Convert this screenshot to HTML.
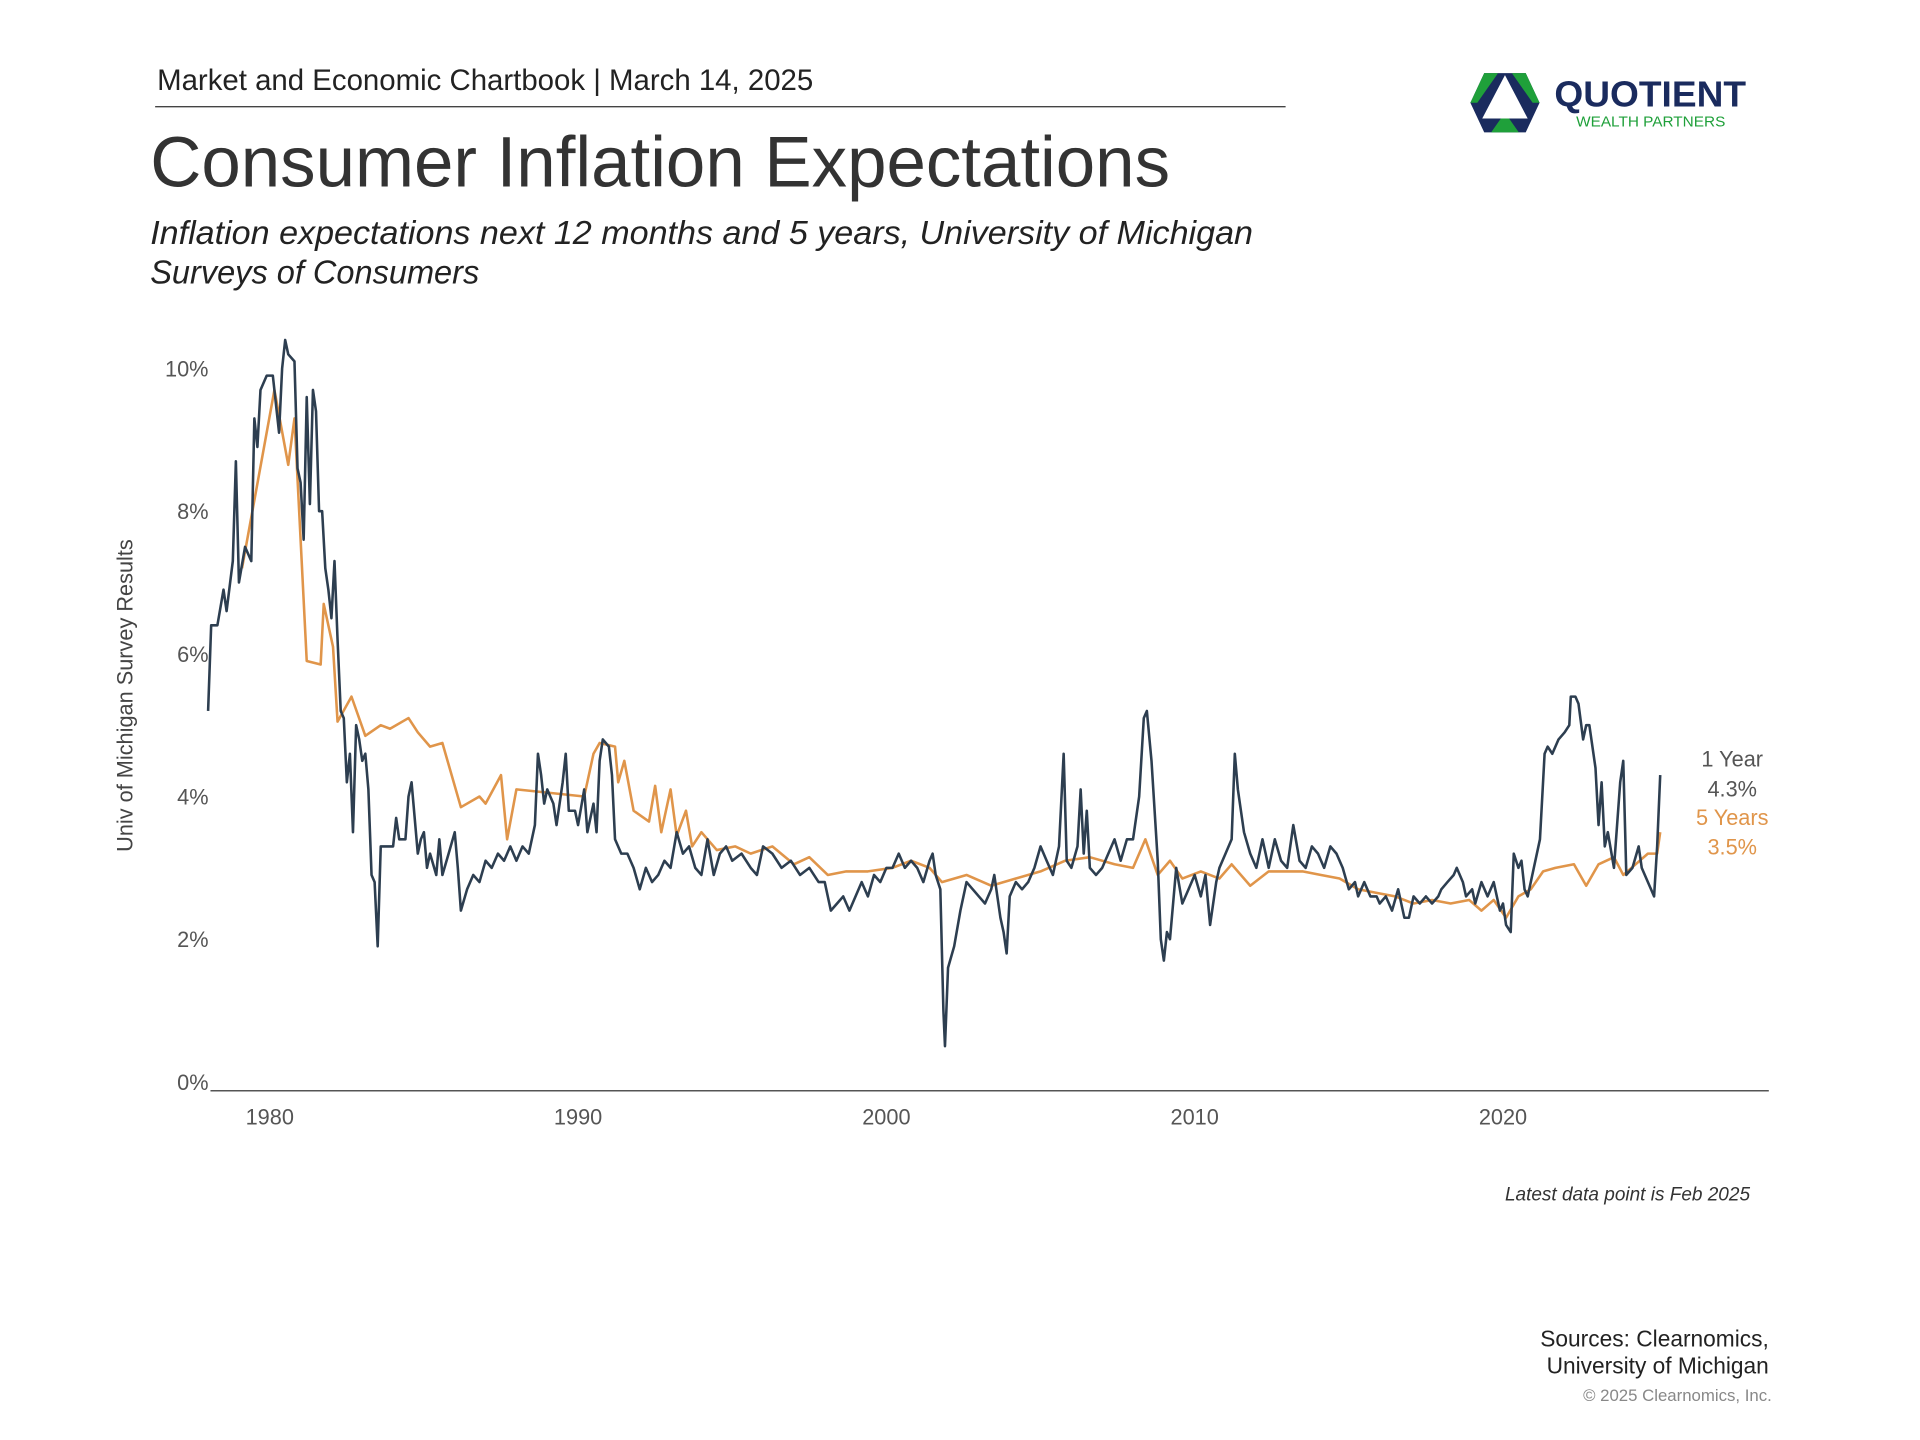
<!DOCTYPE html>
<html><head><meta charset="utf-8"><style>
html,body{margin:0;padding:0;background:#fff;}
svg{display:block;font-family:"Liberation Sans",sans-serif;}
</style></head><body>
<svg id="c" width="1920" height="1440" viewBox="0 0 1943 1457.5" preserveAspectRatio="none">
<text x="159" y="91" font-size="30" fill="#222" textLength="664" lengthAdjust="spacingAndGlyphs">Market and Economic Chartbook | March 14, 2025</text>
<line x1="157" y1="108" x2="1301" y2="108" stroke="#444" stroke-width="1.3"/>
<text x="152" y="189" font-size="72" fill="#333" textLength="1032" lengthAdjust="spacingAndGlyphs">Consumer Inflation Expectations</text>
<text x="152" y="247" font-size="34" font-style="italic" fill="#222" textLength="1116" lengthAdjust="spacingAndGlyphs">Inflation expectations next 12 months and 5 years, University of Michigan</text>
<text x="152" y="287" font-size="34" font-style="italic" fill="#222" textLength="333" lengthAdjust="spacingAndGlyphs">Surveys of Consumers</text>
<g>
<polygon points="1502,74 1544,74 1558,104 1544,134 1502,134 1488,104" fill="#1a2b5e"/>
<polygon points="1502,74 1516,74 1495,104 1488,104" fill="#1fa03a"/>
<polygon points="1544,74 1530,74 1551,104 1558,104" fill="#1fa03a"/>
<polygon points="1509,134 1523,114 1537,134" fill="#1fa03a"/>
<polygon points="1523,76 1546,120 1500,120" fill="#fff"/>
<text x="1573" y="108" font-size="37" font-weight="bold" fill="#1a2b5e" textLength="194" lengthAdjust="spacingAndGlyphs">QUOTIENT</text>
<text x="1595" y="128" font-size="15" fill="#1fa03a" textLength="151" lengthAdjust="spacingAndGlyphs">WEALTH PARTNERS</text>
</g>
<text transform="translate(134,704) rotate(-90)" text-anchor="middle" font-size="22" fill="#444">Univ of Michigan Survey Results</text>
<g id="axes"></g>
<g id="series"></g>
<text x="1753" y="776" text-anchor="middle" font-size="22" fill="#555">1 Year</text>
<text x="1753" y="806" text-anchor="middle" font-size="22" fill="#555">4.3%</text>
<text x="1753" y="835" text-anchor="middle" font-size="22" fill="#e0954a">5 Years</text>
<text x="1753" y="865" text-anchor="middle" font-size="22" fill="#e0954a">3.5%</text>
<text x="1771" y="1215" text-anchor="end" font-size="20" font-style="italic" fill="#333" textLength="248" lengthAdjust="spacingAndGlyphs">Latest data point is Feb 2025</text>
<text x="1790" y="1363" text-anchor="end" font-size="23" fill="#222">Sources: Clearnomics,</text>
<text x="1790" y="1390" text-anchor="end" font-size="23" fill="#222">University of Michigan</text>
<text x="1793" y="1418" text-anchor="end" font-size="17" fill="#888">© 2025 Clearnomics, Inc.</text>
</svg>
<script>
const yTicks=[0,2,4,6,8,10];
const yTickLabels=["0%","2%","4%","6%","8%","10%"];
const xTicks=[1980,1990,2000,2010,2020];
const xTickLabels=["1980","1990","2000","2010","2020"];
const oneYearDates=[1978.0,1978.1,1978.3,1978.5,1978.6,1978.8,1978.9,1979.0,1979.2,1979.4,1979.5,1979.6,1979.7,1979.9,1980.1,1980.3,1980.4,1980.5,1980.6,1980.8,1980.9,1981.0,1981.1,1981.2,1981.3,1981.4,1981.5,1981.6,1981.7,1981.8,1981.9,1982.0,1982.1,1982.2,1982.3,1982.4,1982.5,1982.6,1982.7,1982.8,1982.9,1983.0,1983.1,1983.2,1983.3,1983.4,1983.5,1983.6,1983.8,1984.0,1984.1,1984.2,1984.4,1984.5,1984.6,1984.8,1984.9,1985.0,1985.1,1985.2,1985.4,1985.5,1985.6,1985.8,1986.0,1986.1,1986.2,1986.4,1986.6,1986.8,1987.0,1987.2,1987.4,1987.6,1987.8,1988.0,1988.2,1988.4,1988.6,1988.7,1988.8,1988.9,1989.0,1989.2,1989.3,1989.5,1989.6,1989.7,1989.9,1990.0,1990.2,1990.3,1990.5,1990.6,1990.7,1990.8,1991.0,1991.1,1991.2,1991.4,1991.6,1991.8,1992.0,1992.2,1992.4,1992.6,1992.8,1993.0,1993.2,1993.4,1993.6,1993.8,1994.0,1994.2,1994.4,1994.6,1994.8,1995.0,1995.3,1995.6,1995.8,1996.0,1996.3,1996.6,1996.9,1997.2,1997.5,1997.8,1998.0,1998.2,1998.4,1998.6,1998.8,1999.0,1999.2,1999.4,1999.6,1999.8,2000.0,2000.2,2000.4,2000.6,2000.8,2001.0,2001.2,2001.4,2001.5,2001.6,2001.75,2001.85,2001.9,2002.0,2002.2,2002.4,2002.6,2002.8,2003.0,2003.2,2003.4,2003.5,2003.7,2003.8,2003.9,2004.0,2004.2,2004.4,2004.6,2004.8,2005.0,2005.2,2005.4,2005.6,2005.75,2005.85,2006.0,2006.2,2006.3,2006.4,2006.5,2006.6,2006.8,2007.0,2007.2,2007.4,2007.6,2007.8,2008.0,2008.2,2008.35,2008.45,2008.6,2008.8,2008.9,2009.0,2009.1,2009.2,2009.4,2009.6,2009.8,2010.0,2010.2,2010.35,2010.5,2010.7,2010.8,2011.0,2011.2,2011.3,2011.4,2011.6,2011.8,2012.0,2012.2,2012.3,2012.4,2012.6,2012.8,2013.0,2013.2,2013.4,2013.6,2013.8,2014.0,2014.2,2014.4,2014.6,2014.8,2015.0,2015.2,2015.3,2015.5,2015.7,2015.9,2016.0,2016.2,2016.4,2016.6,2016.8,2016.95,2017.1,2017.3,2017.5,2017.7,2017.9,2018.0,2018.2,2018.4,2018.5,2018.7,2018.8,2019.0,2019.1,2019.3,2019.5,2019.7,2019.9,2020.0,2020.1,2020.25,2020.35,2020.5,2020.6,2020.7,2020.8,2021.0,2021.2,2021.35,2021.45,2021.6,2021.8,2022.0,2022.15,2022.2,2022.35,2022.45,2022.6,2022.7,2022.8,2023.0,2023.1,2023.2,2023.3,2023.4,2023.6,2023.8,2023.9,2024.0,2024.2,2024.4,2024.5,2024.8,2024.9,2025.0,2025.1];
const oneYearValues=[5.2,6.4,6.4,6.9,6.6,7.3,8.7,7.0,7.5,7.3,9.3,8.9,9.7,9.9,9.9,9.1,10.0,10.4,10.2,10.1,8.6,8.4,7.6,9.6,8.1,9.7,9.4,8.0,8.0,7.2,6.9,6.5,7.3,6.2,5.2,5.1,4.2,4.6,3.5,5.0,4.8,4.5,4.6,4.1,2.9,2.8,1.9,3.3,3.3,3.3,3.7,3.4,3.4,4.0,4.2,3.2,3.4,3.5,3.0,3.2,2.9,3.4,2.9,3.2,3.5,3.0,2.4,2.7,2.9,2.8,3.1,3.0,3.2,3.1,3.3,3.1,3.3,3.2,3.6,4.6,4.3,3.9,4.1,3.9,3.6,4.2,4.6,3.8,3.8,3.6,4.1,3.5,3.9,3.5,4.5,4.8,4.7,4.3,3.4,3.2,3.2,3.0,2.7,3.0,2.8,2.9,3.1,3.0,3.5,3.2,3.3,3.0,2.9,3.4,2.9,3.2,3.3,3.1,3.2,3.0,2.9,3.3,3.2,3.0,3.1,2.9,3.0,2.8,2.8,2.4,2.5,2.6,2.4,2.6,2.8,2.6,2.9,2.8,3.0,3.0,3.2,3.0,3.1,3.0,2.8,3.1,3.2,2.9,2.7,1.0,0.5,1.6,1.9,2.4,2.8,2.7,2.6,2.5,2.7,2.9,2.3,2.1,1.8,2.6,2.8,2.7,2.8,3.0,3.3,3.1,2.9,3.3,4.6,3.1,3.0,3.3,4.1,3.2,3.8,3.0,2.9,3.0,3.2,3.4,3.1,3.4,3.4,4.0,5.1,5.2,4.5,3.1,2.0,1.7,2.1,2.0,3.0,2.5,2.7,2.9,2.6,2.9,2.2,2.8,3.0,3.2,3.4,4.6,4.1,3.5,3.2,3.0,3.4,3.2,3.0,3.4,3.1,3.0,3.6,3.1,3.0,3.3,3.2,3.0,3.3,3.2,3.0,2.7,2.8,2.6,2.8,2.6,2.6,2.5,2.6,2.4,2.7,2.3,2.3,2.6,2.5,2.6,2.5,2.6,2.7,2.8,2.9,3.0,2.8,2.6,2.7,2.5,2.8,2.6,2.8,2.4,2.5,2.2,2.1,3.2,3.0,3.1,2.7,2.6,3.0,3.4,4.6,4.7,4.6,4.8,4.9,5.0,5.4,5.4,5.3,4.8,5.0,5.0,4.4,3.6,4.2,3.3,3.5,3.0,4.2,4.5,2.9,3.0,3.3,3.0,2.7,2.6,3.3,4.3];
const fiveYearDates=[1979.1,1980.15,1980.6,1980.8,1981.2,1981.65,1981.75,1982.05,1982.2,1982.65,1983.1,1983.6,1983.9,1984.5,1984.8,1985.2,1985.6,1986.2,1986.8,1987.0,1987.5,1987.7,1988.0,1990.2,1990.5,1990.7,1991.2,1991.3,1991.5,1991.8,1992.3,1992.5,1992.7,1993.0,1993.2,1993.5,1993.7,1994.0,1994.5,1995.1,1995.6,1996.3,1997.0,1997.5,1998.1,1998.7,1999.4,2000.2,2000.8,2001.4,2001.8,2002.6,2003.4,2004.2,2005.0,2005.8,2006.6,2007.4,2008.0,2008.4,2008.8,2009.2,2009.6,2010.2,2010.8,2011.2,2011.8,2012.4,2012.9,2013.5,2014.1,2014.7,2015.3,2015.9,2016.5,2017.1,2017.7,2018.3,2018.9,2019.3,2019.7,2020.1,2020.5,2020.9,2021.3,2021.7,2022.3,2022.7,2023.1,2023.6,2023.9,2024.3,2024.7,2025.0,2025.1];
const fiveYearValues=[7.2,9.7,8.65,9.3,5.9,5.85,6.7,6.1,5.05,5.4,4.85,5.0,4.95,5.1,4.9,4.7,4.75,3.85,4.0,3.9,4.3,3.4,4.1,4.0,4.6,4.75,4.7,4.2,4.5,3.8,3.65,4.15,3.5,4.1,3.45,3.8,3.3,3.5,3.25,3.3,3.2,3.3,3.05,3.15,2.9,2.95,2.95,3.0,3.1,3.0,2.8,2.9,2.75,2.85,2.95,3.1,3.15,3.05,3.0,3.4,2.9,3.1,2.85,2.95,2.85,3.05,2.75,2.95,2.95,2.95,2.9,2.85,2.7,2.65,2.6,2.5,2.55,2.5,2.55,2.4,2.55,2.3,2.6,2.7,2.95,3.0,3.05,2.75,3.05,3.15,2.9,3.05,3.2,3.2,3.5];

const NS="http://www.w3.org/2000/svg";
function xs(y){return 273+(y-1980)*31.2;}
function ys(v){return 1095-v*72.2;}
const axes=document.getElementById('axes');
const series=document.getElementById('series');
function mk(tag,attrs,parent){const e=document.createElementNS(NS,tag);for(const k in attrs)e.setAttribute(k,attrs[k]);parent.appendChild(e);return e;}
yTicks.forEach((v,i)=>{
  const t=mk('text',{x:211,y:ys(v)+8,'text-anchor':'end','font-size':22,fill:'#555'},axes);
  t.textContent=yTickLabels[i];
  
  
});
xTicks.forEach((v,i)=>{
  const t=mk('text',{x:xs(v),y:1138,'text-anchor':'middle','font-size':22,fill:'#555'},axes);
  t.textContent=xTickLabels[i];
  
  
});
const ax=mk('line',{x1:213,y1:1104,x2:1790,y2:1104,stroke:'#555','stroke-width':1.5},axes);


function path(d,v){return d.map((x,i)=>(i?'L':'M')+xs(x).toFixed(1)+','+ys(v[i]).toFixed(1)).join('');}
const p5=mk('path',{d:path(fiveYearDates,fiveYearValues),fill:'none',stroke:'#e0954a','stroke-width':2.6,'stroke-linejoin':'round'},series);


const p1=mk('path',{d:path(oneYearDates,oneYearValues),fill:'none',stroke:'#2d3e50','stroke-width':2.6,'stroke-linejoin':'round'},series);


</script>
</body></html>
